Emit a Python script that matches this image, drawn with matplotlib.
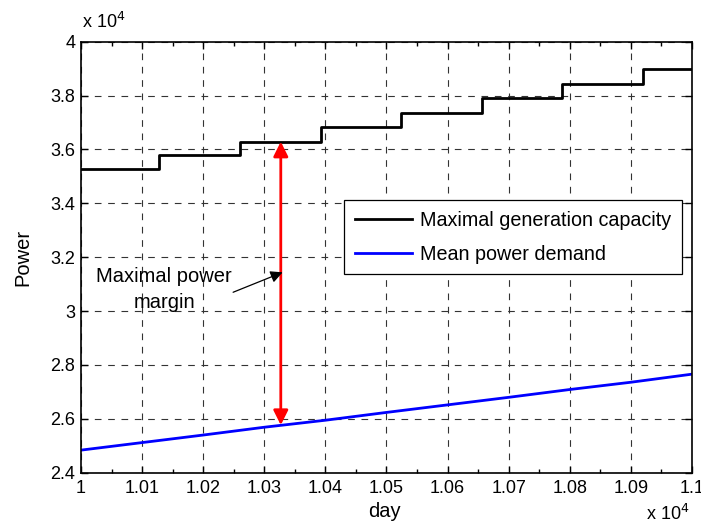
import matplotlib.pyplot as plt
from matplotlib.ticker import MultipleLocator

plt.rcParams['font.family'] = ['Liberation Sans', 'DejaVu Sans']

# -------------------- data --------------------
# maximal generation capacity (step changes)
cap_days = [10000, 10128, 10261, 10393, 10524, 10656, 10788, 10920, 11000]
cap_power = [35260, 35790, 36290, 36830, 37360, 37900, 38430, 38970, 38970]

# mean power demand
demand_days = [10000, 10100, 10200, 10300, 10400, 10500, 10600, 10700, 10800, 10900, 11000]
demand_power = [24840, 25120, 25400, 25690, 25950, 26240, 26520, 26800, 27090, 27360, 27660]

# margin arrow
margin_day = 10327
margin_low = 25770
margin_high = 36290

xticks = [10000, 10100, 10200, 10300, 10400, 10500, 10600, 10700, 10800, 10900, 11000]
xtick_labels = ['1', '1.01', '1.02', '1.03', '1.04', '1.05', '1.06', '1.07', '1.08', '1.09', '1.1']
yticks = [24000, 26000, 28000, 30000, 32000, 34000, 36000, 38000, 40000]
ytick_labels = ['2.4', '2.6', '2.8', '3', '3.2', '3.4', '3.6', '3.8', '4']

# -------------------- plot --------------------
fig = plt.figure(figsize=(7.01, 5.30), dpi=100)
ax = fig.add_axes([0.1155, 0.108, 0.8717, 0.8133])

ax.step(cap_days, cap_power, where='post', color='black', lw=2.0,
        label='Maximal generation capacity')
ax.plot(demand_days, demand_power, color='blue', lw=2.0, label='Mean power demand')

ax.annotate('', xy=(margin_day, margin_high), xytext=(margin_day, margin_low),
            arrowprops=dict(arrowstyle='<|-|>', color='red', lw=2,
                            mutation_scale=22, shrinkA=0, shrinkB=0))

ax.annotate('', xy=(10330, 31440), xytext=(10249, 30700),
            arrowprops=dict(arrowstyle='-|>', color='black', lw=0.9,
                            mutation_scale=18, shrinkA=0, shrinkB=0))
ax.text(10136, 30800, 'Maximal power\nmargin', ha='center', va='center',
        fontsize=14.5, linespacing=1.5)

ax.set_xlim(10000, 11000)
ax.set_ylim(24000, 40000)
ax.set_xticks(xticks)
ax.set_xticklabels(xtick_labels)
ax.set_yticks(yticks)
ax.set_yticklabels(ytick_labels)
ax.xaxis.set_minor_locator(MultipleLocator(50))
ax.tick_params(which='both', direction='in', top=True, right=True, labelsize=13)
ax.tick_params(which='major', length=5, width=1)
ax.tick_params(which='minor', length=3, width=1)
ax.tick_params(axis='x', pad=5)
ax.tick_params(axis='y', pad=4)
ax.grid(True, which='major', color='0.2', linestyle=(0, (6, 6)), lw=0.8)
for s in ax.spines.values():
    s.set_linewidth(1.2)

ax.set_xlabel('day', fontsize=14.5)
ax.set_ylabel('Power', fontsize=14.5)
ax.xaxis.set_label_coords(0.497, -0.068)
ax.yaxis.set_label_coords(-0.080, 0.50)

fig.text(0.117, 0.940, r'x 10$^{4}$', fontsize=13, ha='left', va='bottom',
         math_fontfamily='dejavusans')
fig.text(0.984, 0.012, r'x 10$^{4}$', fontsize=13, ha='right', va='bottom',
         math_fontfamily='dejavusans')

leg = ax.legend(loc='upper left', bbox_to_anchor=(0.430, 0.633), borderaxespad=0,
                fancybox=False, edgecolor='black', fontsize=14.2, handlelength=2.9,
                handletextpad=0.4, labelspacing=0.75, borderpad=0.55,
                framealpha=1)
leg.get_frame().set_linewidth(0.9)

fig.savefig('out.png', dpi=100)
